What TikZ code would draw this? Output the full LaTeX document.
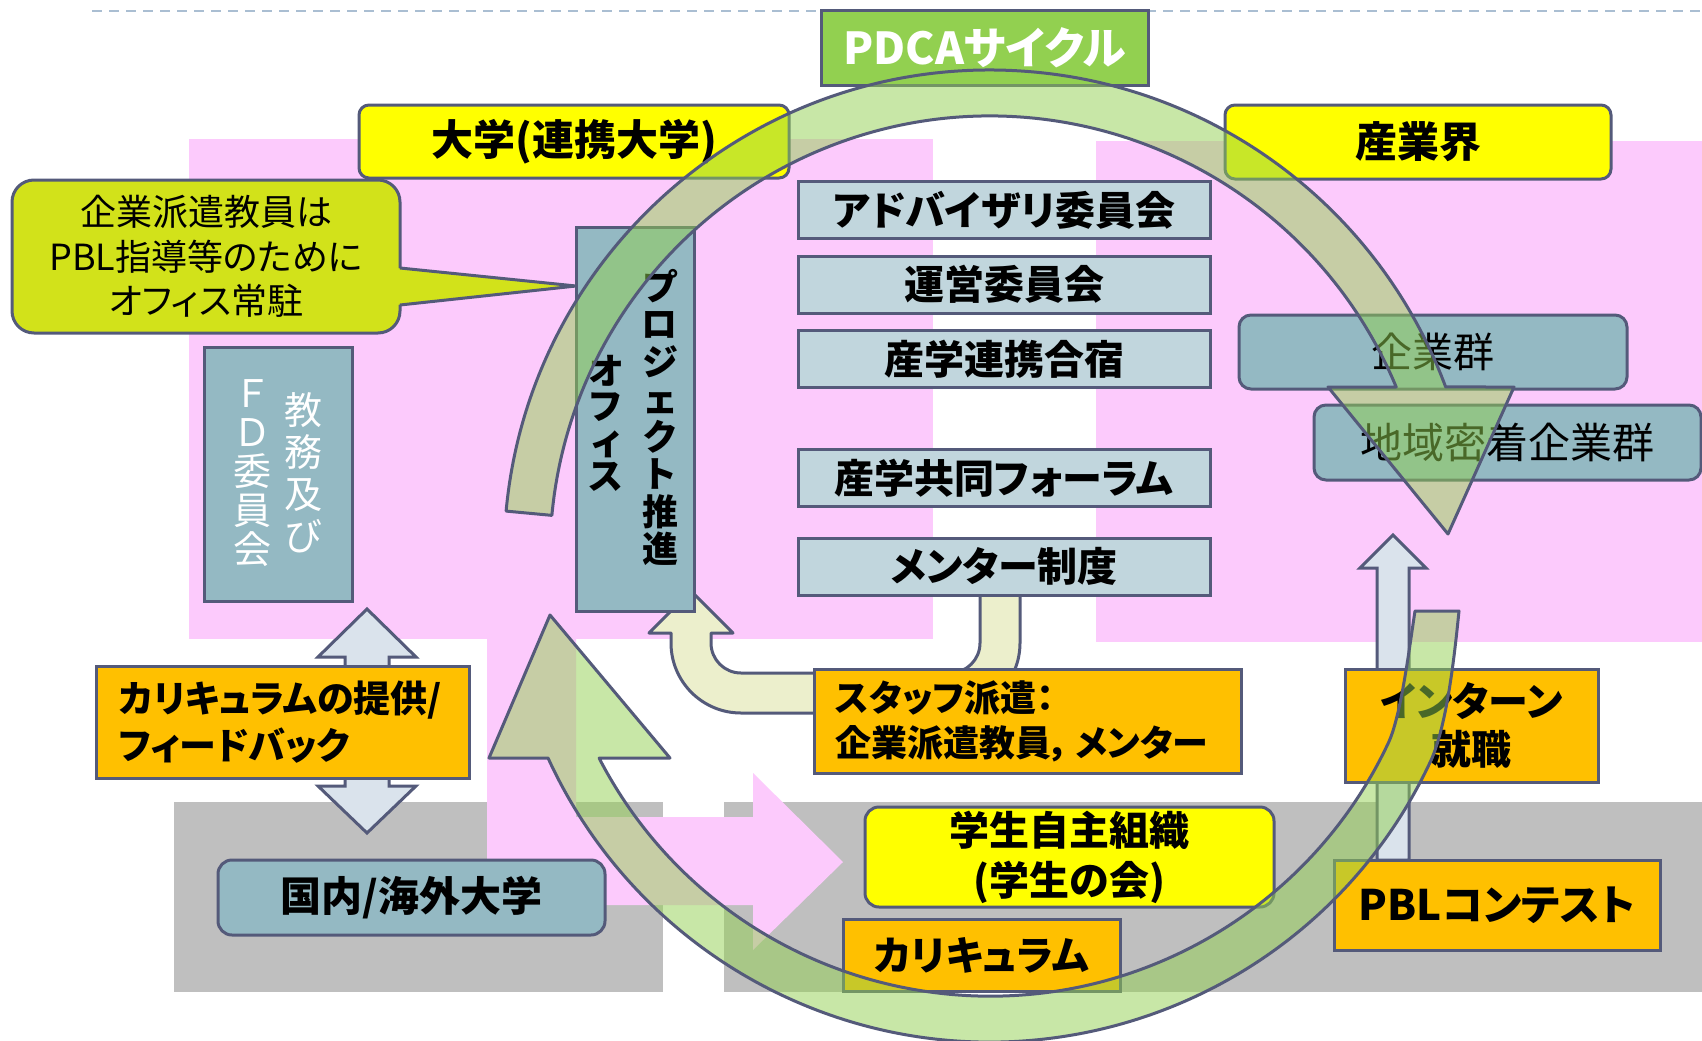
\documentclass[tikz,border=0pt]{standalone}
\usepackage{fontspec}
\setmainfont{Noto Sans CJK JP}[BoldFont={Noto Sans CJK JP Black},RawFeature=+palt]
\usetikzlibrary{calc}
\definecolor{pinkbg}{RGB}{252,202,252}
\definecolor{graybg}{RGB}{191,191,191}
\definecolor{bord}{RGB}{84,90,122}
\definecolor{steel}{RGB}{148,185,195}
\definecolor{lightbox}{RGB}{193,214,221}
\definecolor{orng}{RGB}{255,192,0}
\definecolor{yel}{RGB}{255,255,0}
\definecolor{callc}{RGB}{210,226,26}
\definecolor{pdcag}{RGB}{146,208,80}
\definecolor{arrblue}{RGB}{218,227,236}
\definecolor{cream}{RGB}{236,239,204}
\definecolor{dashc}{RGB}{170,190,210}
\newcommand{\myfs}[2]{\fontsize{#1}{#2}\selectfont}
\begin{document}
\begin{tikzpicture}[x=1pt,y=-1pt,
  bx/.style={draw=bord,line width=3pt,inner sep=0pt,align=center,text=black},
  greenarr/.style={fill=pdcag,fill opacity=0.5,draw=bord,line width=3pt,line join=round},
  blarr/.style={fill=arrblue,draw=bord,line width=3pt,line join=miter},
  crarr/.style={fill=cream,draw=bord,line width=3pt,line join=round},
  vcol/.style={inner sep=0pt,align=center}]
\useasboundingbox (0,0) rectangle (1702,1041);
\fill[white] (0,0) rectangle (1702,1041);

% backgrounds
\fill[graybg] (174,802) rectangle (663,992);
\fill[graybg] (724,802) rectangle (1702,992);
\fill[pinkbg] (189,139) rectangle (933,639);
\fill[pinkbg] (1096,141) rectangle (1702,642);
\fill[pinkbg] (487,638) -- (576,638) -- (576,817) -- (753,817) -- (753,773)
  -- (843,862) -- (753,950) -- (753,905) -- (487,905) -- cycle;

% dashed top line
\coordinate (dashA) at (92,11);
\coordinate (dashB) at (1702,11);
\draw[dashc,line width=2pt,dash pattern=on 10pt off 7pt] (dashA) -- (dashB);

% arrows below the boxes
\draw[blarr] (367,609) -- (416,657) -- (389,657) -- (389,786) -- (416,786)
  -- (367,833) -- (318,786) -- (345,786) -- (345,657) -- (318,657) -- cycle;
\draw[blarr] (1393,535) -- (1426,568) -- (1409,568) -- (1409,860)
  -- (1377,860) -- (1377,568) -- (1360,568) -- cycle;
\draw[crarr] (1020,594) -- (1020,643) arc[start angle=0,end angle=90,radius=70]
  -- (741,713) arc[start angle=90,end angle=180,radius=70]
  -- (671,633) -- (649,633) -- (691,591) -- (733,633) -- (711,633) -- (711,643)
  arc[start angle=180,end angle=90,radius=30] -- (950,673)
  arc[start angle=90,end angle=0,radius=30] -- (980,594) -- cycle;

% boxes
\node[bx,fill=pdcag,text=white,font=\bfseries\myfs{44}{44},minimum width=327pt,minimum height=74pt] (pdca) at (984.5,48) {PDCAサイクル};
\node[bx,fill=yel,rounded corners=10pt,font=\bfseries\myfs{42}{42},minimum width=430pt,minimum height=73pt] (univ) at (574,141.5) {大学(連携大学)};
\node[bx,fill=yel,rounded corners=10pt,font=\bfseries\myfs{42}{42},minimum width=386pt,minimum height=74pt] (industry) at (1418,142) {産業界};

\node[bx,fill=callc,rounded corners=22pt,font=\myfs{36}{44.5},minimum width=388pt,minimum height=153pt] (callout) at (206,256.5) {企業派遣教員は\\PBL指導等のために\\オフィス常駐};
\coordinate (calltip) at (576,286);
\fill[callc] (396,268) -- (calltip) -- (396,305) -- cycle;
\draw[bord,line width=3pt,line join=round] (400,268) -- (calltip) -- (400,305);

\node[bx,fill=steel,minimum width=148pt,minimum height=254pt] (fd) at (278,474) {};
\node[vcol,text=white,font=\myfs{38}{42}] (fdR) at (303,472.5) {教\\務\\及\\び};
\node[vcol,text=white,font=\myfs{38}{39}] (fdL) at (252,473) {Ｆ\\Ｄ\\委\\員\\会};

\node[bx,fill=steel,minimum width=118pt,minimum height=384pt] (proj) at (635,419) {};
\node[vcol,font=\bfseries\myfs{36}{37.5}] (projR) at (660,417.5) {プ\\ロ\\ジ\\ェ\\ク\\ト\\推\\進};
\node[vcol,font=\bfseries\myfs{36}{35}] (projL) at (606,423.5) {オ\\フ\\ィ\\ス};

\node[bx,fill=lightbox,font=\bfseries\myfs{40}{40},minimum width=412pt,minimum height=57pt] (advisory) at (1004,210) {アドバイザリ委員会};
\node[bx,fill=lightbox,font=\bfseries\myfs{40}{40},minimum width=412pt,minimum height=57pt] (steering) at (1004,284.5) {運営委員会};
\node[bx,fill=lightbox,font=\bfseries\myfs{40}{40},minimum width=412pt,minimum height=57pt] (camp) at (1004,359) {産学連携合宿};
\node[bx,fill=lightbox,font=\bfseries\myfs{40}{40},minimum width=412pt,minimum height=57pt] (forum) at (1004,478) {産学共同フォーラム};
\node[bx,fill=lightbox,font=\bfseries\myfs{40}{40},minimum width=412pt,minimum height=57pt] (mentor) at (1004,566.5) {メンター制度};

\node[bx,fill=steel,rounded corners=12pt,font=\myfs{41}{41},minimum width=388pt,minimum height=74pt] (firms) at (1433,352) {企業群};
\node[bx,fill=steel,rounded corners=12pt,font=\myfs{42}{42},minimum width=387pt,minimum height=75pt] (local) at (1507.5,442.5) {地域密着企業群};

\node[bx,fill=orng,align=left,text width=327pt,inner xsep=23pt,minimum height=112pt,font=\bfseries\myfs{37}{47}] (curfb) at (282.5,722) {カリキュラムの提供/\\フィードバック};
\node[bx,fill=orng,align=left,text width=384pt,inner xsep=21.5pt,minimum height=104pt,font=\bfseries\myfs{36}{45}] (staff) at (1027.5,721) {スタッフ派遣：\\企業派遣教員，\hspace{6pt}メンター};
\node[bx,fill=orng,font=\bfseries\myfs{40}{48},minimum width=253pt,minimum height=113pt] (intern) at (1471.5,725.5) {インターン\\就職};
\node[bx,fill=orng,font=\bfseries\myfs{42}{42},minimum width=326pt,minimum height=90pt] (pbl) at (1497,905) {PBLコンテスト};
\node[bx,fill=yel,rounded corners=14pt,font=\bfseries\myfs{40}{50},minimum width=409pt,minimum height=100pt] (student) at (1069.5,857) {学生自主組織\\(学生の会)};
\node[bx,fill=orng,font=\bfseries\myfs{40}{40},minimum width=277pt,minimum height=72pt] (curr) at (981.5,955) {カリキュラム};
\node[bx,fill=steel,rounded corners=14pt,font=\bfseries\myfs{41}{41},minimum width=387pt,minimum height=75pt] (kokunai) at (411.5,897.5) {国内/海外大学};

% PDCA cycle arrows (on top, translucent)
\draw[greenarr] (506.1,511.1) arc[start angle=185.3,end angle=339.65,radius=486]
  -- (1514,387) -- (1448,534) -- (1328,387) -- (1396.2,387.0)
  arc[start angle=337.41,end angle=185.3,radius=440] -- cycle;
\draw[greenarr] (1459,611) .. controls (1455,650) and (1447.4,725.1) .. (1430.5,761.4)
  arc[start angle=25,end angle=155.44,radius=486]
  -- (489,758) -- (550,615) -- (670,758) -- (599.1,758.1)
  arc[start angle=152.67,end angle=25,radius=440]
  .. controls (1401,715) and (1409,650) .. (1415,611) -- cycle;
\end{tikzpicture}
\end{document}
